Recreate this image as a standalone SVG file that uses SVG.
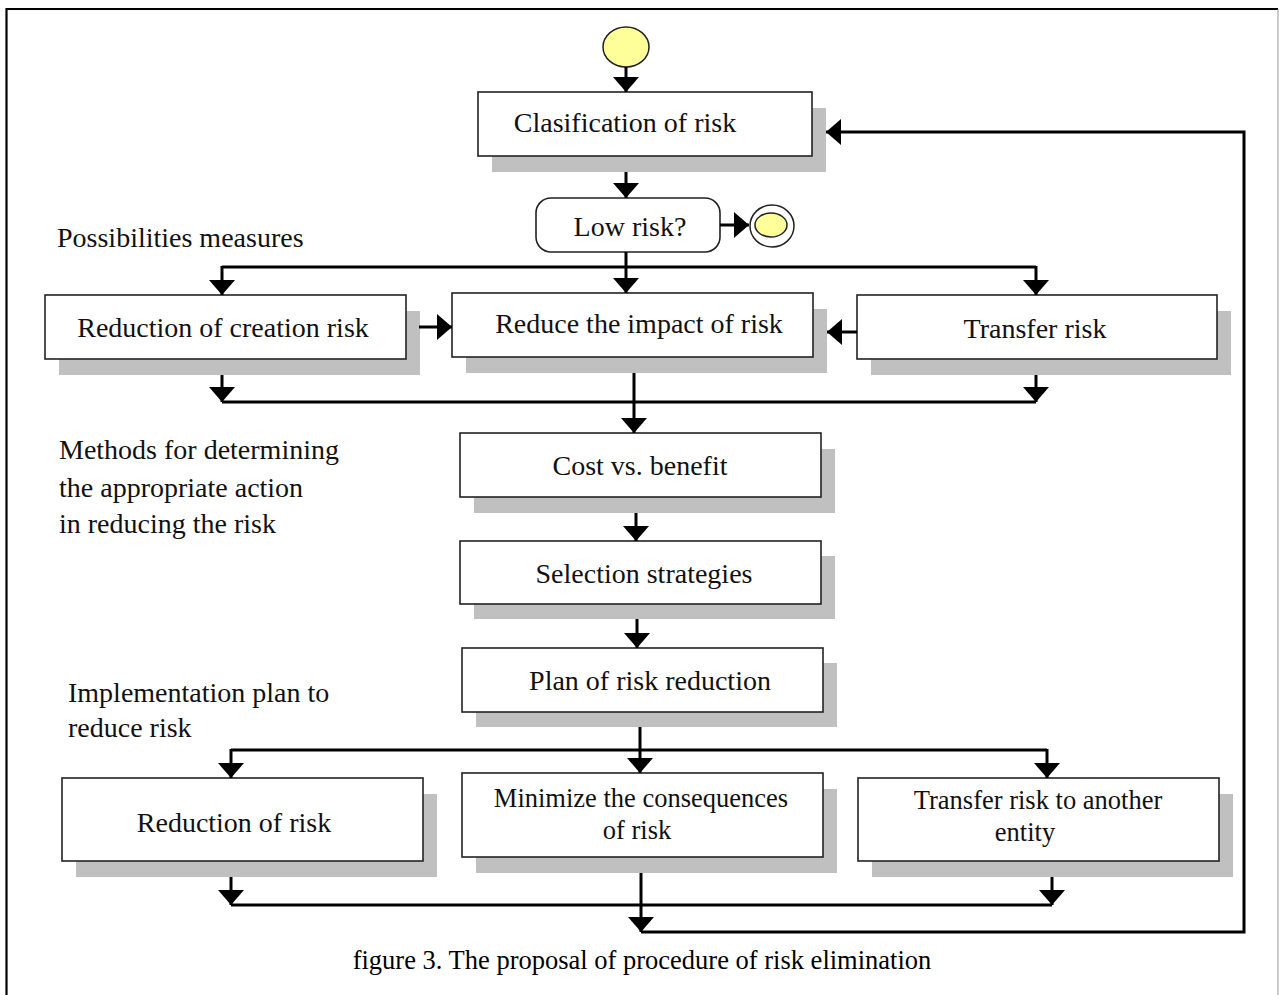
<svg xmlns="http://www.w3.org/2000/svg" width="1279" height="995" viewBox="0 0 1279 995">
<style>
.bx{fill:#fff;stroke:#222;stroke-width:1.6}
.sh{fill:#c0c0c0}
.t{font-family:"Liberation Serif","Times New Roman",serif;font-size:28px;fill:#111}
.t2{font-size:26.5px}
.c{text-anchor:middle}
.ln{fill:none;stroke:#000;stroke-width:3}
.ar{fill:none;stroke:#000;stroke-width:3;marker-end:url(#ah)}
</style>
<defs>
<marker id="ah" markerUnits="userSpaceOnUse" viewBox="0 0 15 26" refX="15" refY="13" markerWidth="15" markerHeight="26" orient="auto">
<path d="M0,0 L15,13 L0,26 z" fill="#000"/>
</marker>
</defs>
<rect width="1279" height="995" fill="#fff"/>
<path d="M6.5,995 V9 H1278" fill="none" stroke="#000" stroke-width="2.2"/>
<line x1="1278" y1="9" x2="1278" y2="995" stroke="#999" stroke-width="1"/>

<g id="labels">
<text class="t" x="57" y="247">Possibilities measures</text>
<text class="t" x="59" y="459">Methods for determining</text>
<text class="t" x="59" y="497">the appropriate action</text>
<text class="t" x="59" y="533">in reducing the risk</text>
<text class="t" x="68" y="702">Implementation plan to</text>
<text class="t" x="68" y="737">reduce risk</text>
</g>

<g id="start"><ellipse cx="626" cy="47" rx="23" ry="20" fill="#ffff99" stroke="#222" stroke-width="1.5"/></g>

<g id="classification">
<rect class="sh" x="492" y="108" width="334" height="64"/>
<rect class="bx" x="478" y="92" width="334" height="64"/>
<text class="t c" x="625" y="132">Clasification of risk</text>
</g>

<g id="lowrisk">
<rect class="bx" x="536" y="198" width="184" height="54" rx="15"/>
<text class="t c" x="630" y="236">Low risk?</text>
</g>

<g id="end">
<ellipse cx="772" cy="226" rx="22" ry="21" fill="#fff" stroke="#222" stroke-width="1.5"/>
<ellipse cx="771" cy="225" rx="16" ry="12" fill="#ffff99" stroke="#222" stroke-width="1.5"/>
</g>

<g id="creation">
<rect class="sh" x="59" y="311" width="361" height="64"/>
<rect class="bx" x="45" y="295" width="361" height="64"/>
<text class="t c" x="223" y="337">Reduction of creation risk</text>
</g>

<g id="impact">
<rect class="sh" x="466" y="309" width="361" height="64"/>
<rect class="bx" x="452" y="293" width="361" height="64"/>
<text class="t c" x="639" y="333">Reduce the impact of risk</text>
</g>

<g id="transfer">
<rect class="sh" x="871" y="311" width="360" height="64"/>
<rect class="bx" x="857" y="295" width="360" height="64"/>
<text class="t c" x="1035" y="338">Transfer risk</text>
</g>

<g id="cost">
<rect class="sh" x="474" y="449" width="361" height="64"/>
<rect class="bx" x="460" y="433" width="361" height="64"/>
<text class="t c" x="640" y="475">Cost vs. benefit</text>
</g>

<g id="selection">
<rect class="sh" x="474" y="556" width="361" height="63"/>
<rect class="bx" x="460" y="541" width="361" height="63"/>
<text class="t c" x="644" y="583">Selection strategies</text>
</g>

<g id="plan">
<rect class="sh" x="476" y="663" width="361" height="64"/>
<rect class="bx" x="462" y="648" width="361" height="64"/>
<text class="t c" x="650" y="690">Plan of risk reduction</text>
</g>

<g id="reduction">
<rect class="sh" x="76" y="794" width="361" height="83"/>
<rect class="bx" x="62" y="778" width="361" height="83"/>
<text class="t c" x="234" y="832">Reduction of risk</text>
</g>

<g id="minimize">
<rect class="sh" x="476" y="789" width="361" height="84"/>
<rect class="bx" x="462" y="773" width="361" height="84"/>
<text class="t t2 c" x="641" y="807">Minimize the consequences</text>
<text class="t t2 c" x="637" y="839">of risk</text>
</g>

<g id="transfer2">
<rect class="sh" x="872" y="794" width="361" height="83"/>
<rect class="bx" x="858" y="778" width="361" height="83"/>
<text class="t t2 c" x="1038" y="809">Transfer risk to another</text>
<text class="t t2 c" x="1025" y="841">entity</text>
</g>

<g id="connectors">
<path class="ar" d="M626,67 V92"/>
<path class="ar" d="M626,172 V198"/>
<path class="ar" d="M720,225 H749"/>
<path class="ln" d="M626,252 V267"/>
<path class="ln" d="M222,267 H1036"/>
<path class="ar" d="M222,266 V295"/>
<path class="ar" d="M626,266 V293"/>
<path class="ar" d="M1036,266 V295"/>
<path class="ar" d="M419,327 H452"/>
<path class="ar" d="M857,332 H827"/>
<path class="ar" d="M222,375 V402"/>
<path class="ar" d="M1036,375 V402"/>
<path class="ln" d="M222,402 H1036"/>
<path class="ar" d="M634,373 V433"/>
<path class="ar" d="M636,513 V541"/>
<path class="ar" d="M637,619 V648"/>
<path class="ln" d="M640,727 V750"/>
<path class="ln" d="M231,750 H1047"/>
<path class="ar" d="M231,749 V778"/>
<path class="ar" d="M640,749 V773"/>
<path class="ar" d="M1047,749 V778"/>
<path class="ar" d="M231,877 V905"/>
<path class="ar" d="M1052,877 V905"/>
<path class="ln" d="M231,905 H1052"/>
<path class="ar" d="M641,873 V932"/>
<path class="ar" d="M641,932 H1244 V132 H826"/>
</g>

<text x="642" y="969" text-anchor="middle" font-family="'Liberation Serif','Times New Roman',serif" font-size="26.5" fill="#000">figure 3. The proposal of procedure of risk elimination</text>
</svg>
